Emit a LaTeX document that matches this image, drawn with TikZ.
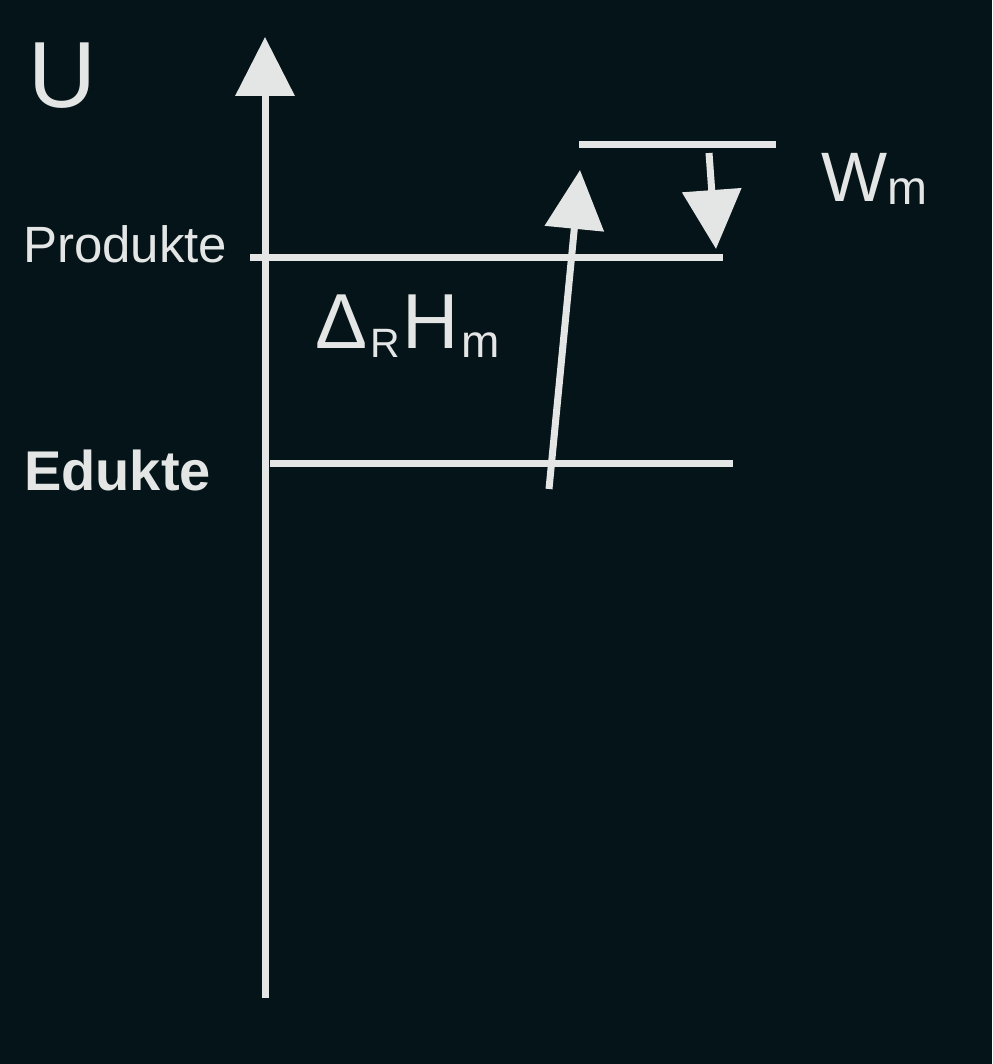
\documentclass[tikz,border=0pt]{standalone}
\usepackage{fontspec}
\setmainfont{Liberation Sans}
\usetikzlibrary{arrows.meta}
\definecolor{BoardBg}{HTML}{051418}
\definecolor{Chalk}{HTML}{E4E6E6}
\tikzset{
  level/.style={line width=7pt,color=Chalk},
  axisarr/.style={line width=7pt,color=Chalk,-{Triangle[length=59pt,width=58pt]}},
  lbl/.style={inner sep=0pt,anchor=base west,text=Chalk},
}
\newcommand{\lowsub}[2]{\raisebox{-9pt}{\fontsize{#1}{#1}\selectfont #2}}
\begin{document}
\begin{tikzpicture}[x=1pt,y=-1pt]
  \useasboundingbox[fill=BoardBg] (0,0) rectangle (992,1064);
  % axis and energy levels
  \coordinate (axbot) at (265,998);
  \coordinate (axtop) at (265,37);
  \coordinate (prodL) at (250,258);
  \coordinate (prodR) at (723,258);
  \coordinate (eduL)  at (270,463);
  \coordinate (eduR)  at (733,463);
  \coordinate (wL)    at (579,145);
  \coordinate (wR)    at (776,145);
  \coordinate (dhS)   at (549,489);
  \coordinate (dhE)   at (580,170);
  \coordinate (wmS)   at (709,153);
  \coordinate (wmE)   at (716,249);

  \draw[axisarr] (axbot) -- (axtop);
  \draw[level] (prodL) -- (prodR);
  \draw[level] (eduL) -- (eduR);
  \draw[level] (wL) -- (wR);
  \draw[axisarr] (dhS) -- (dhE);
  \draw[axisarr] (wmS) -- (wmE);

  \node[lbl,font=\fontsize{94}{94}\selectfont] (U) at (28,108) {U};
  \node[lbl,font=\fontsize{51}{51}\selectfont] (prod) at (23,262) {Produkte};
  \node[lbl,font=\fontsize{56}{56}\selectfont\bfseries] (edu) at (24,490) {Edukte};
  \node[lbl,font=\fontsize{78}{78}\selectfont] (dh) at (315,348)
    {Δ\kern3pt\lowsub{41}{R}\kern3pt H\kern2pt\lowsub{46}{m}};
  \node[lbl,font=\fontsize{70}{70}\selectfont] (wm) at (821,202)
    {W\raisebox{-3pt}{\fontsize{48}{48}\selectfont m}};
\end{tikzpicture}
\end{document}
